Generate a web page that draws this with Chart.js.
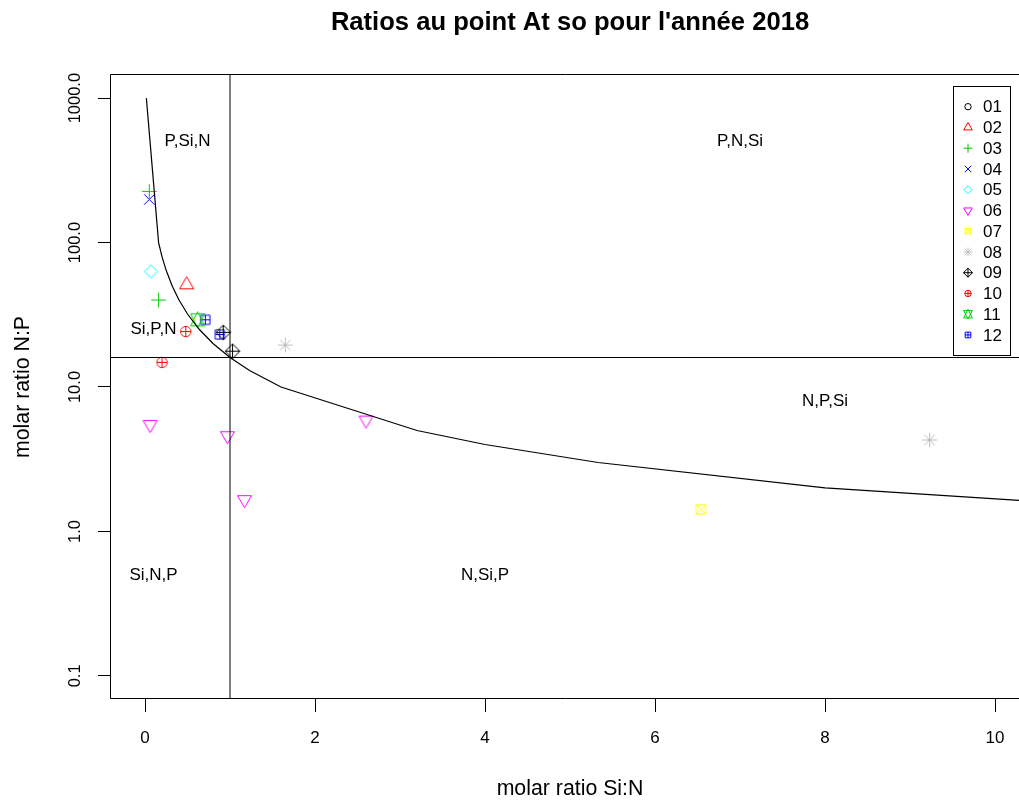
<!DOCTYPE html>
<html>
<head>
<meta charset="utf-8">
<title>Ratios au point At so pour l'année 2018</title>
<script src="https://cdn.jsdelivr.net/npm/chart.js@4.4.1/dist/chart.umd.min.js"></script>
<style>
  html, body { margin: 0; padding: 0; background: #ffffff; }
  canvas { display: block; }
</style>
</head>
<body>
<canvas id="ratios" width="1019" height="800" style="width:1019px;height:800px"></canvas>
<script>
// ---- data: molar ratios per sampling month ----
const monthCodes = ['01', '02', '03', '04', '05', '06', '07', '08', '09', '10', '11', '12'];
const ratioSiN = [
  [], [0.49], [0.05, 0.16], [0.05], [0.07], [0.06, 0.97, 1.17, 2.60],
  [6.54], [1.65, 9.23], [0.92, 1.03], [0.48, 0.20], [0.62], [0.71, 0.88]
];
const ratioNP = [
  [], [51], [226, 40], [199], [63], [5.5, 4.6, 1.66, 5.9],
  [1.42], [19.5, 4.3], [23.9, 17.7], [24.2, 14.8], [29.2], [29.2, 23.1]
];

// limiting curve N:P = 16 / (Si:N)
const curveSiN = [0.016, 0.16, 0.2, 0.25, 0.32, 0.4, 0.5, 0.64, 0.8, 1.0, 1.23, 1.6, 3.2, 4.0, 5.33, 8.0, 16.0];
const curveNP  = [1000, 100, 80, 64, 50, 40, 32, 25, 20, 16, 13, 10, 5, 4, 3, 2, 1];

// Redfield reference values
const refSiN = 1;
const refNP = 16;

// zone labels (limiting nutrient order)
const zoneLabels = ['P,Si,N', 'P,N,Si', 'Si,P,N', 'N,P,Si', 'Si,N,P', 'N,Si,P'];
const zoneSiN = [0.5, 7, 0.1, 8, 0.1, 4];
const zoneNP = [500, 500, 25, 8, 0.5, 0.5];

// axis ticks
const xTicks = [0, 2, 4, 6, 8, 10];
const yTicks = [0.1, 1, 10, 100, 1000];

// ---- styling ----
const monthColors = ['#000000', '#FF0000', '#00CD00', '#0000FF', '#00FFFF', '#FF00FF',
                     '#FFFF00', '#BEBEBE', '#000000', '#FF0000', '#00CD00', '#0000FF'];
const monthSymbols = [1, 2, 3, 4, 5, 6, 7, 8, 9, 10, 11, 12];
const FONT = "'Liberation Sans', Arial, Helvetica, sans-serif";
const SYMBOL_RADIUS = 5.2;
const LEGEND_RADIUS = 3.2;

// plotting-symbol outlines (classic pch shapes 1..12)
function drawSymbol(g, pch, x, y, R, color) {
  const s2 = Math.SQRT2, sq = 0.886226925;
  const r = 1.55512030 * R, tx = 1.34677369 * R, ty = 0.77756015 * R;
  g.save();
  g.strokeStyle = color;
  g.lineWidth = 1;
  g.beginPath();
  const diamond = (a) => { g.moveTo(x - a, y); g.lineTo(x, y - a); g.lineTo(x + a, y); g.lineTo(x, y + a); g.closePath(); };
  const plus = (a) => { g.moveTo(x - a, y); g.lineTo(x + a, y); g.moveTo(x, y - a); g.lineTo(x, y + a); };
  const cross = (a) => { g.moveTo(x - a, y - a); g.lineTo(x + a, y + a); g.moveTo(x - a, y + a); g.lineTo(x + a, y - a); };
  switch (pch) {
    case 1: g.arc(x, y, R, 0, 2 * Math.PI); break;
    case 2: g.moveTo(x, y - r); g.lineTo(x + tx, y + ty); g.lineTo(x - tx, y + ty); g.closePath(); break;
    case 3: plus(s2 * R); break;
    case 4: cross(R); break;
    case 5: diamond(s2 * sq * R); break;
    case 6: g.moveTo(x, y + r); g.lineTo(x + tx, y - ty); g.lineTo(x - tx, y - ty); g.closePath(); break;
    case 7: { const a = sq * R; g.rect(x - a, y - a, 2 * a, 2 * a); cross(a); break; }
    case 8: cross(R); plus(s2 * R); break;
    case 9: plus(s2 * R); diamond(s2 * R); break;
    case 10: g.moveTo(x + R, y); g.arc(x, y, R, 0, 2 * Math.PI); plus(R); break;
    case 11: {
      const yc = 0.5 * (ty + r);
      g.moveTo(x, y - r); g.lineTo(x + tx, y + yc); g.lineTo(x - tx, y + yc); g.closePath();
      g.moveTo(x, y + r); g.lineTo(x + tx, y - yc); g.lineTo(x - tx, y - yc); g.closePath();
      break;
    }
    case 12: { const a = sq * R; g.rect(x - a, y - a, 2 * a, 2 * a); plus(a); break; }
  }
  g.stroke();
  g.restore();
}

// odd-sized sprite so the symbol centre sits on a pixel centre
function symbolImage(pch, color, R) {
  const size = 2 * Math.ceil(1.6 * R + 2) + 1;
  const c = document.createElement('canvas');
  c.width = size; c.height = size;
  drawSymbol(c.getContext('2d'), pch, size / 2, size / 2, R, color);
  return c;
}

// ---- datasets ----
const datasets = [];
datasets.push({
  label: 'limit', data: curveSiN.map((v, i) => ({ x: v, y: curveNP[i] })),
  showLine: true, borderColor: '#000', borderWidth: 1.2, pointRadius: 0, fill: false
});
datasets.push({
  label: 'N:P 16', data: [{ x: -5, y: refNP }, { x: 50, y: refNP }],
  showLine: true, borderColor: '#000', borderWidth: 1, pointRadius: 0, fill: false
});
datasets.push({
  label: 'Si:N 1', data: [{ x: refSiN, y: 0.001 }, { x: refSiN, y: 100000 }],
  showLine: true, borderColor: '#000', borderWidth: 1, pointRadius: 0, fill: false
});
monthCodes.forEach((m, i) => {
  datasets.push({
    label: m,
    data: ratioSiN[i].map((v, j) => ({ x: v, y: ratioNP[i][j] })),
    pointStyle: symbolImage(monthSymbols[i], monthColors[i], SYMBOL_RADIUS),
    pointRadius: 6, showLine: false
  });
});

// ---- decorations drawn around the library's chart area ----
const decor = {
  id: 'decor',
  afterDatasetsDraw(chart) {
    const { ctx, chartArea: a, scales: { x, y } } = chart;
    ctx.save();
    // plot frame (right edge lies beyond the canvas)
    ctx.strokeStyle = '#000';
    ctx.lineWidth = 1;
    ctx.beginPath();
    const L = Math.round(a.left) - 0.5, T = Math.round(a.top) - 0.5, B = Math.round(a.bottom) - 0.5;
    ctx.moveTo(a.right + 2, T); ctx.lineTo(L, T); ctx.lineTo(L, B); ctx.lineTo(a.right + 2, B);
    ctx.stroke();

    // zone labels
    ctx.fillStyle = '#000';
    ctx.font = '17px ' + FONT;
    ctx.textAlign = 'center';
    ctx.textBaseline = 'middle';
    zoneLabels.forEach((t, i) => {
      ctx.fillText(t, x.getPixelForValue(zoneSiN[i]), y.getPixelForValue(zoneNP[i]));
    });

    // legend
    const lx0 = 953, ly0 = 86, lx1 = 1010, ly1 = 355;
    ctx.fillStyle = '#fff';
    ctx.fillRect(lx0, ly0, lx1 - lx0, ly1 - ly0);
    ctx.strokeStyle = '#000';
    ctx.strokeRect(lx0 + 0.5, ly0 + 0.5, lx1 - lx0, ly1 - ly0);
    ctx.font = '17px ' + FONT;
    ctx.textAlign = 'left';
    monthCodes.forEach((m, i) => {
      const ry = 106.7 + i * 20.75;
      drawSymbol(ctx, monthSymbols[i], 968, ry, LEGEND_RADIUS, monthColors[i]);
      ctx.fillStyle = '#000';
      ctx.fillText(m, 983, ry + 1);
    });
    ctx.restore();
  },
  afterDraw(chart) {
    const { ctx, chartArea: a, scales: { y } } = chart;
    ctx.save();
    ctx.fillStyle = '#000';
    ctx.textBaseline = 'middle';
    ctx.textAlign = 'center';
    // main title
    ctx.font = 'bold 25.6px ' + FONT;
    ctx.fillText("Ratios au point At so pour l'année 2018", 570, 23);
    // x axis title
    ctx.font = '21.3px ' + FONT;
    ctx.fillText('molar ratio Si:N', 570, 789);
    // y axis title
    ctx.save();
    ctx.translate(23, (a.top + a.bottom) / 2);
    ctx.rotate(-Math.PI / 2);
    ctx.fillText('molar ratio N:P', 0, 0);
    ctx.restore();
    // y tick labels, parallel to the axis
    ctx.font = '16.5px ' + FONT;
    yTicks.forEach(v => {
      ctx.save();
      ctx.translate(75, y.getPixelForValue(v));
      ctx.rotate(-Math.PI / 2);
      ctx.fillText(v.toFixed(1), 0, 0);
      ctx.restore();
    });
    ctx.restore();
  }
};

Chart.defaults.font.family = FONT;
Chart.defaults.color = '#000';

new Chart(document.getElementById('ratios'), {
  type: 'scatter',
  data: { datasets },
  options: {
    responsive: false,
    animation: false,
    devicePixelRatio: 1,
    events: [],
    layout: { autoPadding: false, padding: { top: 75, left: 0, right: 0, bottom: 0 } },
    plugins: { legend: { display: false }, tooltip: { enabled: false }, title: { display: false } },
    scales: {
      x: {
        type: 'linear', min: -0.4, max: 10.282,
        afterBuildTicks: s => { s.ticks = xTicks.map(v => ({ value: v })); },
        afterFit: s => { s.height = 101; s.paddingLeft = 0; s.paddingRight = 0; },
        border: { display: false },
        grid: { drawOnChartArea: false, drawTicks: true, tickLength: 13, tickColor: '#000', color: '#000', lineWidth: 1 },
        ticks: { font: { size: 17 }, color: '#000', padding: 16, maxRotation: 0, autoSkip: false, callback: v => String(v) }
      },
      y: {
        type: 'logarithmic', min: 0.069183, max: 1445.44,
        afterBuildTicks: s => { s.ticks = yTicks.map(v => ({ value: v })); },
        afterFit: s => { s.width = 111; s.paddingTop = 0; s.paddingBottom = 0; },
        border: { display: false },
        grid: { drawOnChartArea: false, drawTicks: true, tickLength: 13, tickColor: '#000', color: '#000', lineWidth: 1 },
        ticks: { display: false }
      }
    }
  },
  plugins: [decor]
});
</script>
</body>
</html>
